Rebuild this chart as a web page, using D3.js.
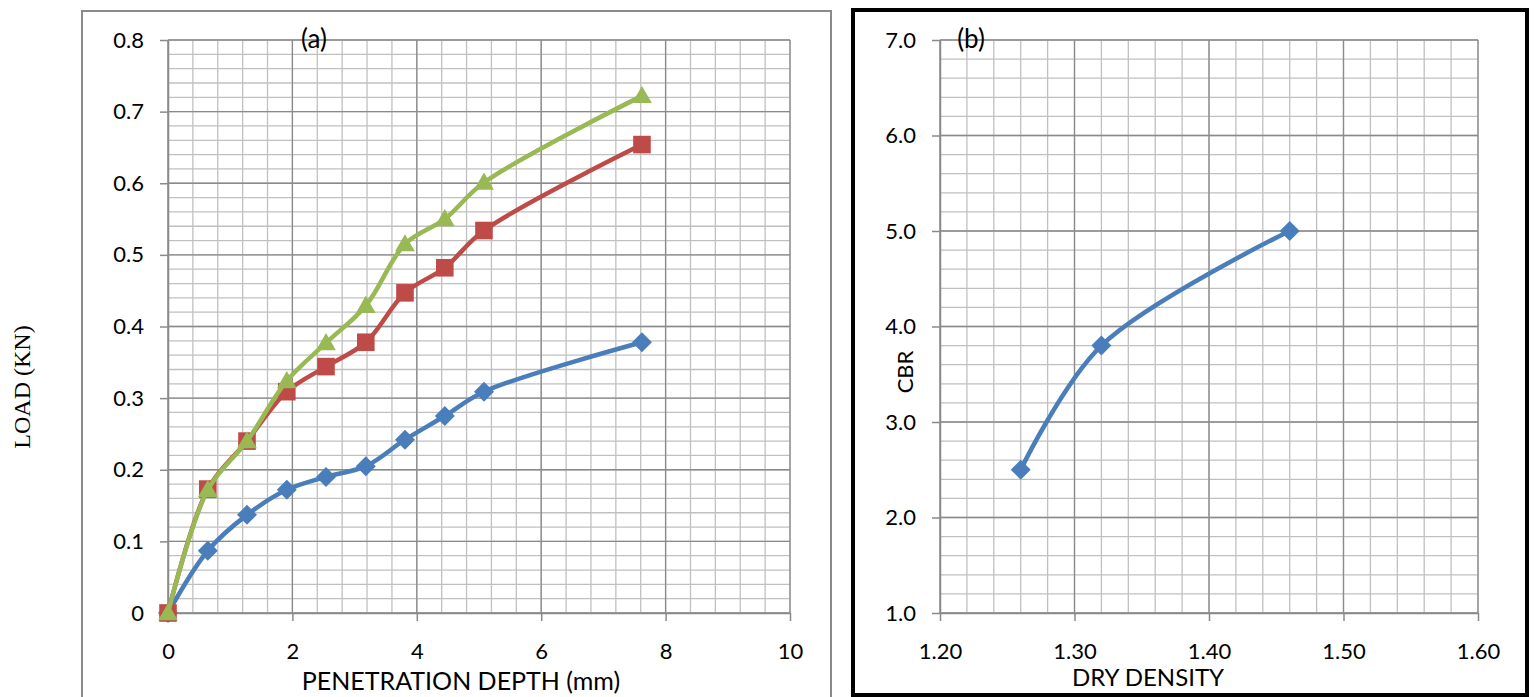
<!DOCTYPE html>
<html>
<head>
<meta charset="utf-8">
<script src="https://cdn.jsdelivr.net/npm/d3@7"></script>
<style>
  body { margin: 0; background: #fff; }
  svg text { font-family: Lato, "Open Sans", sans-serif; fill: #000; }
  .grid-minor { stroke: #c0c0c0; stroke-width: 1.3; }
  .grid-major { stroke: #8a8a8a; stroke-width: 1.3; }
  .axis path, .axis line { stroke: #8a8a8a; stroke-width: 1.5; }
</style>
</head>
<body>
<svg width="1537" height="697"></svg>
<script>
// panel (a) - load / penetration
var penetration = [0, 0.64, 1.27, 1.91, 2.54, 3.18, 3.81, 4.45, 5.08, 7.62];
var loadBlue  = [0, 0.087, 0.137, 0.172, 0.190, 0.205, 0.242, 0.275, 0.309, 0.378];
var loadRed   = [0, 0.173, 0.240, 0.309, 0.344, 0.378, 0.447, 0.482, 0.534, 0.654];
var loadGreen = [0, 0.172, 0.240, 0.324, 0.377, 0.429, 0.515, 0.550, 0.601, 0.722];
var xTicksA = [0, 2, 4, 6, 8, 10];
var yTicksA = [0, 0.1, 0.2, 0.3, 0.4, 0.5, 0.6, 0.7, 0.8];

// panel (b) - cbr / dry density
var dryDensity = [1.26, 1.32, 1.46];
var cbr = [2.5, 3.8, 5.0];
var xTicksB = [1.2, 1.3, 1.4, 1.5, 1.6];
var yTicksB = [1, 2, 3, 4, 5, 6, 7];

var svg = d3.select("svg");

// outer frames
svg.append("rect")
    .attr("x", 82).attr("y", 11)
    .attr("width", 749).attr("height", 700)
    .attr("fill", "none").attr("stroke", "#8a8a8a").attr("stroke-width", 2);
svg.append("rect")
    .attr("x", 853).attr("y", 10)
    .attr("width", 674).attr("height", 685)
    .attr("fill", "none").attr("stroke", "#000").attr("stroke-width", 4);

function drawPanel(opt) {
    var x = d3.scaleLinear().domain(opt.xDomain).range([opt.left, opt.right]);
    var y = d3.scaleLinear().domain(opt.yDomain).range([opt.bottom, opt.top]);
    var g = svg.append("g");

    // minor grid
    var xm = d3.range(opt.xDomain[0], opt.xDomain[1] + 1e-9, opt.xMinor);
    var ym = d3.range(opt.yDomain[0], opt.yDomain[1] + 1e-9, opt.yMinor);
    g.selectAll(".vm").data(xm).enter().append("line")
        .attr("class", "grid-minor")
        .attr("x1", function (d) { return x(d); }).attr("x2", function (d) { return x(d); })
        .attr("y1", opt.top).attr("y2", opt.bottom);
    g.selectAll(".hm").data(ym).enter().append("line")
        .attr("class", "grid-minor")
        .attr("y1", function (d) { return y(d); }).attr("y2", function (d) { return y(d); })
        .attr("x1", opt.left).attr("x2", opt.right);

    // major grid
    g.selectAll(".vM").data(opt.xTicks).enter().append("line")
        .attr("class", "grid-major")
        .attr("x1", function (d) { return x(d); }).attr("x2", function (d) { return x(d); })
        .attr("y1", opt.top).attr("y2", opt.bottom);
    g.selectAll(".hM").data(opt.yTicks).enter().append("line")
        .attr("class", "grid-major")
        .attr("y1", function (d) { return y(d); }).attr("y2", function (d) { return y(d); })
        .attr("x1", opt.left).attr("x2", opt.right);

    // axes
    g.append("g").attr("class", "axis")
        .attr("transform", "translate(0," + opt.bottom + ")")
        .call(d3.axisBottom(x).tickValues(opt.xTicks).tickFormat(opt.xFormat)
            .tickSizeInner(8).tickSizeOuter(0).tickPadding(22));
    g.append("g").attr("class", "axis")
        .attr("transform", "translate(" + opt.left + ",0)")
        .call(d3.axisLeft(y).tickValues(opt.yTicks).tickFormat(opt.yFormat)
            .tickSizeInner(8).tickSizeOuter(0).tickPadding(16));
    g.selectAll(".axis text").attr("font-size", 22).attr("font-family", "Lato, sans-serif");

    // series
    var line = d3.line()
        .x(function (d) { return x(d[0]); })
        .y(function (d) { return y(d[1]); })
        .curve(d3.curveCatmullRom.alpha(0.5));

    opt.series.forEach(function (s) {
        var pts = d3.zip(opt.xs, s.values);
        g.append("path").datum(pts)
            .attr("d", line)
            .attr("fill", "none")
            .attr("stroke", s.color)
            .attr("stroke-width", 4.5)
            .attr("stroke-linejoin", "round");
        g.selectAll(null).data(pts).enter().append("path")
            .attr("d", d3.symbol().type(s.symbol).size(s.size))
            .attr("fill", s.color)
            .attr("transform", function (d) {
                return "translate(" + x(d[0]) + "," + (y(d[1]) + (s.dy || 0)) + ")" +
                    (s.rotate ? " rotate(" + s.rotate + ")" : "");
            });
    });

    // labels
    g.append("text").text(opt.tag)
        .attr("x", opt.tagX).attr("y", opt.top)
        .attr("dy", "0.3em").attr("text-anchor", "middle")
        .attr("font-size", 26);
    g.append("text").text(opt.xTitle)
        .attr("x", opt.xTitleX).attr("y", opt.xTitleY)
        .attr("text-anchor", "middle").attr("font-size", opt.xTitleSize);
    g.append("text").text(opt.yTitle)
        .attr("transform", "translate(" + opt.yTitleX + "," + opt.yTitleY + ") rotate(-90)")
        .attr("text-anchor", "middle").attr("dy", "0.35em")
        .attr("font-size", opt.yTitleSize)
        .style("font-family", opt.yTitleFont);
}

drawPanel({
    left: 168, right: 790, top: 40, bottom: 613,
    xDomain: [0, 10], yDomain: [0, 0.8],
    xMinor: 0.4, yMinor: 0.02,
    xTicks: xTicksA, yTicks: yTicksA,
    xFormat: d3.format("d"), yFormat: function (d) { return d === 0 ? "0" : d3.format(".1f")(d); },
    xs: penetration,
    series: [
        { values: loadBlue, color: "#4a7ebb", symbol: d3.symbolSquare, size: 200, rotate: 45 },
        { values: loadRed, color: "#be4b48", symbol: d3.symbolSquare, size: 310 },
        { values: loadGreen, color: "#98b954", symbol: d3.symbolTriangle, size: 170, dy: 1.5 }
    ],
    tag: "(a)", tagX: 314,
    xTitle: "PENETRATION DEPTH (mm)", xTitleX: 461, xTitleY: 690, xTitleSize: 25,
    yTitle: "LOAD (KN)", yTitleX: 22, yTitleY: 387, yTitleSize: 24,
    yTitleFont: "'Liberation Serif', 'Times New Roman', serif"
});

drawPanel({
    left: 940, right: 1478, top: 40, bottom: 613,
    xDomain: [1.2, 1.6], yDomain: [1, 7],
    xMinor: 0.02, yMinor: 0.2,
    xTicks: xTicksB, yTicks: yTicksB,
    xFormat: d3.format(".2f"), yFormat: d3.format(".1f"),
    xs: dryDensity,
    series: [
        { values: cbr, color: "#4a7ebb", symbol: d3.symbolSquare, size: 200, rotate: 45 }
    ],
    tag: "(b)", tagX: 971,
    xTitle: "DRY DENSITY", xTitleX: 1148, xTitleY: 686, xTitleSize: 24,
    yTitle: "CBR", yTitleX: 905, yTitleY: 372, yTitleSize: 22,
    yTitleFont: "Lato, sans-serif"
});
</script>
</body>
</html>
